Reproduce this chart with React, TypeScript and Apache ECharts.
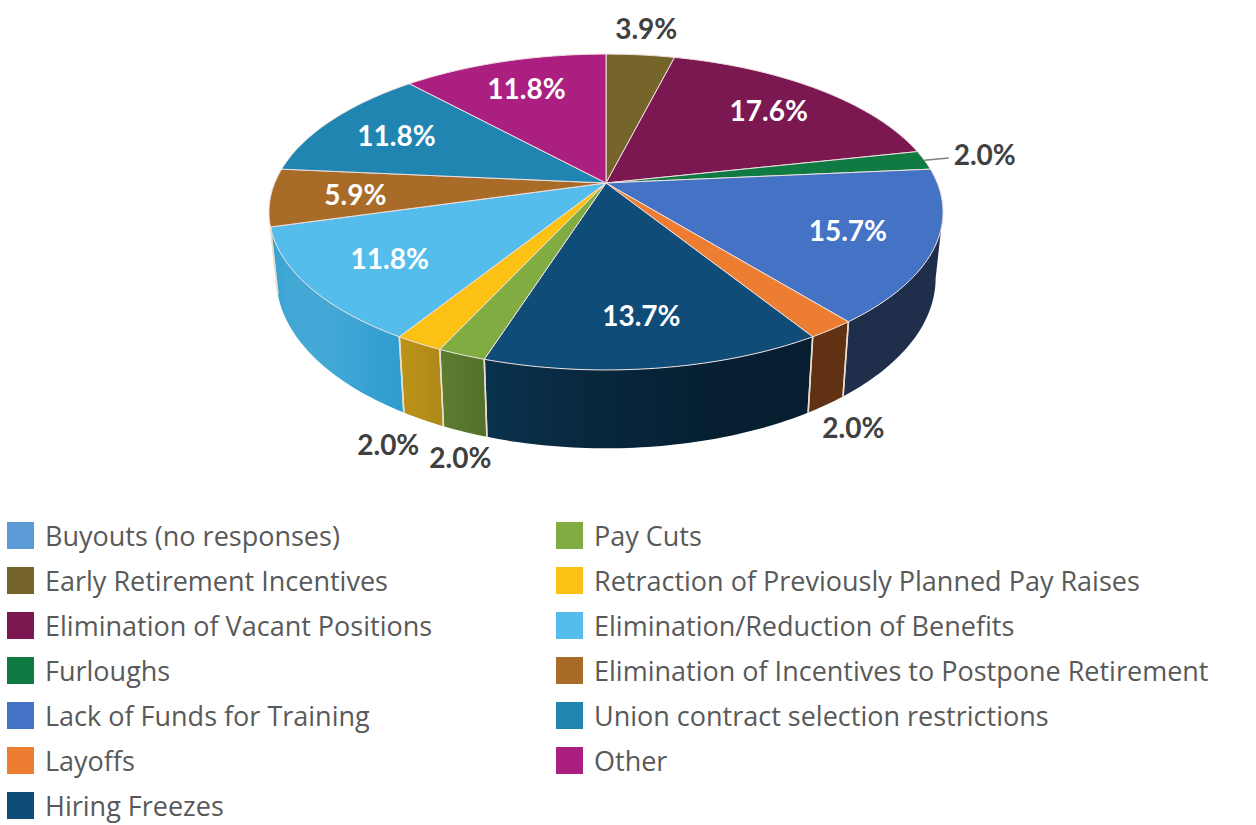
import React, { useEffect, useRef } from 'react';
import * as echarts from 'echarts';

// ---------- data ----------
const categories = [
  'Buyouts (no responses)',
  'Early Retirement Incentives',
  'Elimination of Vacant Positions',
  'Furloughs',
  'Lack of Funds for Training',
  'Layoffs',
  'Hiring Freezes',
  'Pay Cuts',
  'Retraction of Previously Planned Pay Raises',
  'Elimination/Reduction of Benefits',
  'Elimination of Incentives to Postpone Retirement',
  'Union contract selection restrictions',
  'Other',
];
const responses = [0, 2, 9, 1, 8, 1, 7, 1, 1, 6, 3, 6, 6];
const colors = [
  '#5b9bd5', '#76652a', '#7b1751', '#0f7b43', '#4472c4', '#ed7d31', '#0f4c77',
  '#80ac42', '#fbc114', '#55bdec', '#a96c28', '#2185b2', '#ab1f80',
];
const legendColumn1 = categories.slice(0, 7);
const legendColumn2 = categories.slice(7);

// ---------- 3D pie geometry ----------
const CX = 606, CY = 183, RX = 331.3, RY = 152.6, PERSP = 0.1837, DEPTH = 64, BOTTOM_SCALE = 0.978;
const TWO_PI = Math.PI * 2;
const TH_MIN = Math.acos(-PERSP);
const TH_MAX = TWO_PI - TH_MIN;
const STEP = Math.PI / 180;
const LABEL_FONT = 28;

const total = responses.reduce((a, b) => a + b, 0);
const starts: number[] = [];
responses.reduce((acc, v, i) => { starts[i] = acc; return acc + v; }, 0);

function project(theta: number, r = 1): [number, number] {
  const u = r * Math.sin(theta);
  const v = -r * Math.cos(theta);
  const w = 1 - PERSP * v;
  return [CX + (RX * u) / w, CY + (RY * v) / w];
}
function projectBottom(theta: number): [number, number] {
  const [x, y] = project(theta, 1);
  const w = 1 + PERSP * Math.cos(theta);
  return [CX + BOTTOM_SCALE * (x - CX), y + DEPTH / w];
}

function hexToRgb(hex: string) {
  const h = hex.replace('#', '');
  return [parseInt(h.slice(0, 2), 16), parseInt(h.slice(2, 4), 16), parseInt(h.slice(4, 6), 16)];
}
function rgbToHsl(r: number, g: number, b: number) {
  r /= 255; g /= 255; b /= 255;
  const max = Math.max(r, g, b), min = Math.min(r, g, b);
  let h = 0, s = 0;
  const l = (max + min) / 2;
  if (max !== min) {
    const d = max - min;
    s = l > 0.5 ? d / (2 - max - min) : d / (max + min);
    if (max === r) h = (g - b) / d + (g < b ? 6 : 0);
    else if (max === g) h = (b - r) / d + 2;
    else h = (r - g) / d + 4;
    h /= 6;
  }
  return [h, s, l];
}
function hslToRgbStr(h: number, s: number, l: number) {
  const hue2rgb = (p: number, q: number, t: number) => {
    if (t < 0) t += 1;
    if (t > 1) t -= 1;
    if (t < 1 / 6) return p + (q - p) * 6 * t;
    if (t < 1 / 2) return q;
    if (t < 2 / 3) return p + (q - p) * (2 / 3 - t) * 6;
    return p;
  };
  let r, g, b;
  if (s === 0) { r = g = b = l; } else {
    const q = l < 0.5 ? l * (1 + s) : l + s - l * s;
    const p = 2 * l - q;
    r = hue2rgb(p, q, h + 1 / 3); g = hue2rgb(p, q, h); b = hue2rgb(p, q, h - 1 / 3);
  }
  return `rgb(${Math.round(r * 255)},${Math.round(g * 255)},${Math.round(b * 255)})`;
}
function wallShade(theta: number) {
  const d = Math.max(0, -0.8 * Math.sin(theta) - 0.6 * Math.cos(theta));
  return 0.4 + 0.48 * d * d * d;
}
function wallColor(hex: string, theta: number) {
  const [r, g, b] = hexToRgb(hex);
  const [h, s, l] = rgbToHsl(r, g, b);
  return hslToRgbStr(h, l > 0.5 ? s * 0.8 : s, l * wallShade(theta));
}

let measureCtx: CanvasRenderingContext2D | null = null;
function textWidth(text: string) {
  if (!measureCtx) measureCtx = document.createElement('canvas').getContext('2d');
  if (!measureCtx) return text.length * LABEL_FONT * 0.55;
  measureCtx.font = `bold ${LABEL_FONT}px Lato`;
  return measureCtx.measureText(text).width;
}

type LabelLayout = { text: string; x: number; y: number; w: number; inside: boolean; line?: number[] } | null;

function layoutLabels(): LabelLayout[] {
  const out: LabelLayout[] = responses.map((v, i) => {
    if (!v) return null;
    const frac = v / total;
    const mid = ((starts[i] + v / 2) / total) * TWO_PI;
    const text = (frac * 100).toFixed(1) + '%';
    const w = textWidth(text);
    if (frac >= 0.05) {
      const [x, y] = project(mid, 0.75);
      return { text, x, y, w, inside: true };
    }
    const front = -Math.cos(mid) > 0;
    const anchor = front ? projectBottom(mid) : project(mid, 1);
    const dx = Math.sin(mid), dy = -Math.cos(mid);
    const side = Math.abs(dx) > 0.9;
    const g = side ? 30 : 16;
    const h = LABEL_FONT * 0.8;
    const x = anchor[0] + dx * (w / 2 + g);
    const y = anchor[1] + dy * (h / 2 + g);
    const lab: any = { text, x, y, w, inside: false };
    if (side) {
      const sx = Math.sign(dx);
      lab.line = [anchor[0], anchor[1], x - sx * (w / 2 + 5), y + 4];
    }
    return lab;
  });
  // simple horizontal collision avoidance for outside labels
  const outer = out.filter((l) => l && !l.inside) as any[];
  for (let iter = 0; iter < 5; iter++) {
    for (let a = 0; a < outer.length; a++) {
      for (let b = a + 1; b < outer.length; b++) {
        const p = outer[a], q = outer[b];
        const need = (p.w + q.w) / 2 + 10;
        const ddx = q.x - p.x;
        if (Math.abs(ddx) < need && Math.abs(q.y - p.y) < LABEL_FONT * 0.8 + 4) {
          const shift = (need - Math.abs(ddx)) / 2;
          const s = ddx >= 0 ? 1 : -1;
          p.x -= s * shift;
          q.x += s * shift;
        }
      }
    }
  }
  return out;
}

function renderSlice(params: any, api: any) {
  const i = params.dataIndex;
  const value = api.value(0);
  if (!value) return { type: 'group', children: [] };
  const a0 = (starts[i] / total) * TWO_PI;
  const a1 = a0 + (value / total) * TWO_PI;
  const color = colors[i];
  const children: any[] = [];

  const lo = Math.max(a0, TH_MIN), hi = Math.min(a1, TH_MAX);
  if (hi > lo) {
    const m = Math.max(2, Math.ceil((hi - lo) / STEP));
    const topPts: number[][] = [], botPts: number[][] = [];
    for (let j = 0; j <= m; j++) {
      const t = lo + ((hi - lo) * j) / m;
      topPts.push(project(t));
      botPts.push(projectBottom(t));
    }
    const xs = topPts[0][0], xe = topPts[m][0];
    let fill: any;
    if (Math.abs(xe - xs) < 1) fill = wallColor(color, (lo + hi) / 2);
    else {
      const colorStops = [];
      for (let q = 0; q <= 6; q++) {
        const t = lo + ((hi - lo) * q) / 6;
        const off = Math.min(1, Math.max(0, (project(t)[0] - xs) / (xe - xs)));
        colorStops.push({ offset: off, color: wallColor(color, t) });
      }
      fill = { type: 'linear', x: xs, y: 0, x2: xe, y2: 0, global: true, colorStops };
    }
    children.push({
      type: 'polygon',
      shape: { points: topPts.concat(botPts.reverse()) },
      style: { fill, stroke: null },
    });
  }

  const n = Math.max(3, Math.ceil((a1 - a0) / STEP));
  const pts: number[][] = [[CX, CY]];
  for (let j = 0; j <= n; j++) pts.push(project(a0 + ((a1 - a0) * j) / n));
  children.push({
    type: 'polygon',
    shape: { points: pts },
    style: { fill: color, stroke: '#eee0e0', lineWidth: 1, lineJoin: 'round' },
  });
  return { type: 'group', children };
}

function makeLabelRenderer(layout: LabelLayout[]) {
  return (params: any, api: any) => {
    const i = params.dataIndex;
    const value = api.value(0);
    const children: any[] = [];
    if (!value) return { type: 'group', children };
    const a0 = (starts[i] / total) * TWO_PI;
    const a1 = a0 + (value / total) * TWO_PI;
    [a0, a1].forEach((t) => {
      if (t >= TH_MIN && t <= TH_MAX) {
        const [x1, y1] = project(t);
        const [x2, y2] = projectBottom(t);
        children.push({
          type: 'line',
          shape: { x1, y1, x2, y2 },
          style: { stroke: '#eadfcf', lineWidth: 1.5 },
        });
      }
    });
    const lab = layout[i];
    if (lab) {
      if (lab.line) {
        children.push({
          type: 'line',
          shape: { x1: lab.line[0], y1: lab.line[1], x2: lab.line[2], y2: lab.line[3] },
          style: { stroke: '#808080', lineWidth: 1.5 },
        });
      }
      children.push({
        type: 'text',
        x: lab.x,
        y: lab.y,
        style: {
          text: lab.text,
          fill: lab.inside ? '#ffffff' : '#404040',
          fontSize: LABEL_FONT,
          fontWeight: 'bold',
          fontFamily: 'Lato',
          align: 'center',
          verticalAlign: 'middle',
        },
      });
    }
    return { type: 'group', children };
  };
}

const legendBase = {
  orient: 'vertical',
  icon: 'rect',
  itemWidth: 27,
  itemHeight: 27,
  itemGap: 18,
  padding: 0,
  height: 420,
  selectedMode: false,
  itemStyle: { borderWidth: 0 },
  textStyle: { fontFamily: 'Open Sans', fontSize: 27, color: '#595959', lineHeight: 27, padding: [0, 0, 0, 6] },
};

export default function App() {
  const ref = useRef<HTMLDivElement>(null);
  useEffect(() => {
    if (!ref.current) return;
    const chart = echarts.init(ref.current, null, { renderer: 'svg' });
    const layout = layoutLabels();
    const seriesData = responses.map((v, i) => ({ name: categories[i], value: [v, i] }));
    chart.setOption({
      animation: false,
      backgroundColor: '#ffffff',
      color: colors,
      legend: [
        { ...legendBase, data: legendColumn1, left: 7, top: 522 },
        { ...legendBase, data: legendColumn2, left: 556, top: 522 },
      ],
      series: [
        {
          type: 'pie',
          name: 'legend',
          radius: 1,
          center: [-100, -100],
          silent: true,
          label: { show: false },
          labelLine: { show: false },
          itemStyle: { borderWidth: 0 },
          data: categories.map((name, i) => ({ name, value: responses[i], itemStyle: { color: colors[i] } })),
        },
        {
          type: 'custom',
          name: 'slices',
          coordinateSystem: 'none',
          renderItem: renderSlice,
          data: seriesData,
          silent: true,
          clip: false,
          z: 2,
        },
        {
          type: 'custom',
          name: 'labels',
          coordinateSystem: 'none',
          renderItem: makeLabelRenderer(layout),
          data: seriesData,
          silent: true,
          clip: false,
          z: 3,
        },
      ],
    });
    return () => chart.dispose();
  }, []);
  return <div ref={ref} style={{ position: 'fixed', left: 0, top: 0, width: 1256, height: 825, background: '#fff' }} />;
}
